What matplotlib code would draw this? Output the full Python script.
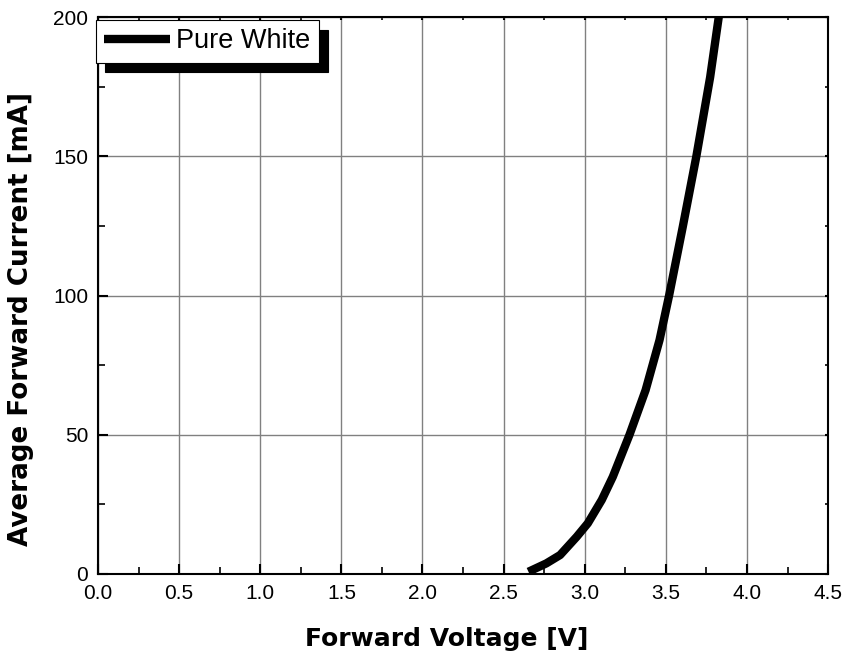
import matplotlib
matplotlib.use("Agg")
import matplotlib.pyplot as plt
from matplotlib.ticker import MultipleLocator

voltage = [2.653, 2.763, 2.848, 2.951, 3.019, 3.105, 3.173, 3.276, 3.375,
           3.461, 3.52, 3.604, 3.688, 3.773, 3.826]
current = [0.8, 3.8, 6.8, 13.4, 18.2, 26.6, 34.9, 50.0, 66.0,
           84.0, 100.0, 124.6, 150.0, 178.4, 200.0]
series_name = "Pure White"
x_label = "Forward Voltage [V]"
y_label = "Average Forward Current [mA]"
x_ticks = [0.0, 0.5, 1.0, 1.5, 2.0, 2.5, 3.0, 3.5, 4.0, 4.5]
y_ticks = [0, 50, 100, 150, 200]

fig = plt.figure(figsize=(8.45, 6.55), dpi=100)
ax = fig.add_axes([0.116, 0.1237, 0.864, 0.8503])

ax.plot(voltage, current, color="black", lw=6, solid_capstyle="butt",
        solid_joinstyle="round", label=series_name, zorder=3)

ax.set_xlim(0, 4.5)
ax.set_ylim(0, 200)
ax.set_xticks(x_ticks)
ax.set_xticklabels([f"{t:.1f}" for t in x_ticks])
ax.set_yticks(y_ticks)
ax.set_yticklabels([str(t) for t in y_ticks])
ax.xaxis.set_minor_locator(MultipleLocator(0.25))
ax.yaxis.set_minor_locator(MultipleLocator(25))

ax.grid(True, which="major", color="#808080", lw=1.0, zorder=0)
ax.set_axisbelow(True)

for s in ax.spines.values():
    s.set_linewidth(1.5)
    s.set_color("black")

ax.tick_params(which="both", direction="in", top=True, right=True)
ax.tick_params(which="major", length=7, width=1.5, labelsize=15, pad=7)
ax.tick_params(which="minor", length=5, width=1.2)
for lab in ax.get_xticklabels() + ax.get_yticklabels():
    lab.set_fontfamily("Liberation Sans")

# shorter ticks on top/right
for t in ax.xaxis.get_major_ticks() + ax.xaxis.get_minor_ticks():
    t.tick2line.set_markersize(2.5)
for t in ax.yaxis.get_major_ticks() + ax.yaxis.get_minor_ticks():
    t.tick2line.set_markersize(2.5)

ax.set_xlabel(x_label, fontsize=18, fontweight="bold", family="DejaVu Sans", va="center")
ax.set_ylabel(y_label, fontsize=18.8, fontweight="bold", family="DejaVu Sans", va="center")
ax.xaxis.set_label_coords(0.478, -0.116)
ax.yaxis.set_label_coords(-0.106, 0.458)

leg = ax.legend(loc="upper left", bbox_to_anchor=(-0.003, 0.994), borderaxespad=0,
                fancybox=False, framealpha=1, edgecolor="black",
                shadow={"color": "black", "alpha": 1, "ox": 6.8, "oy": -7},
                prop={"family": "Liberation Sans", "size": 19.5},
                handlelength=2.45, handletextpad=0.22, borderpad=0.3)
leg.get_frame().set_linewidth(0.8)
leg.set_zorder(10)

fig.savefig("out.png", dpi=100)
